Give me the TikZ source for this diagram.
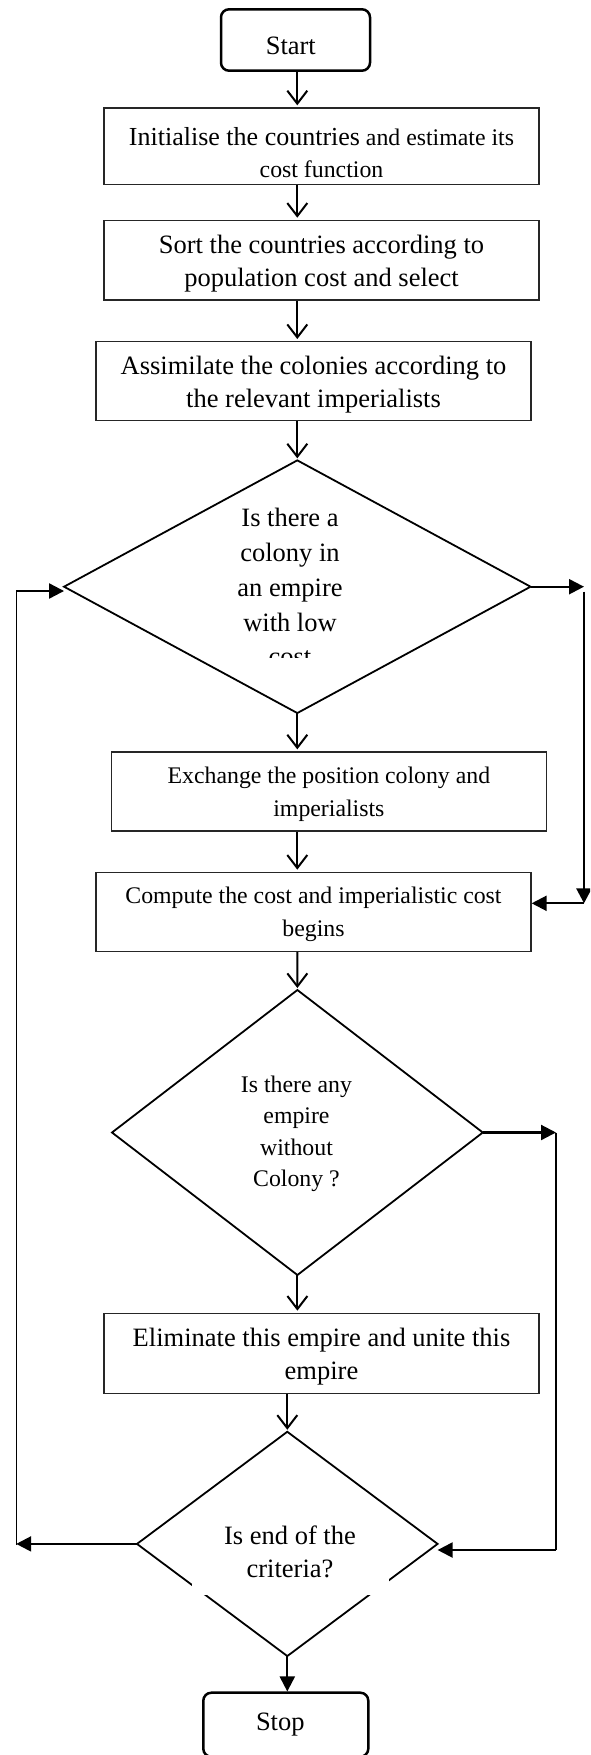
\documentclass[tikz,border=0pt]{standalone}
\usepackage{fontspec}
\setmainfont{Liberation Serif}
\usetikzlibrary{shapes.geometric,arrows.meta}
\newcommand\flowbig{\fontsize{26.5}{33}\selectfont}
\newcommand\flowsmall{\fontsize{23.8}{33}\selectfont}
\newcommand\topgap[1]{\rule{0pt}{#1}}

\begin{document}
\begin{tikzpicture}[x=1pt,y=-1pt,
  proc/.style={draw=black!85,line width=1.3pt,inner sep=0pt,minimum width=435pt,align=center,font=\flowbig},
  term/.style={draw,line width=2.5pt,rounded corners=8pt,inner sep=0pt,minimum width=149pt,font=\flowbig},
  decide/.style={draw,diamond,line width=1.8pt,inner sep=0pt,outer sep=0pt},
  dtext/.style={align=center,inner sep=0pt},
  flow/.style={line width=2pt,shorten >=2pt,-{Straight Barb[length=13pt,width=20pt]}},
  back/.style={line width=2.2pt,-{Triangle[length=15pt,width=15pt]}}]
\useasboundingbox (0,0) rectangle (590,1755);
\clip (0,0) rectangle (590,1755);

\node[term,minimum height=61.4pt] (start) at (295.5,40) {\topgap{29pt}Start\hspace*{9.4pt}};
\node[proc,minimum height=76.7pt,font=\fontsize{23.8}{32.5}\selectfont] (init) at (321.5,146.3)
  {\topgap{31pt}{\fontsize{26}{32.5}\selectfont Initialise the countries} and estimate its\\cost function};
\node[proc,minimum height=79.7pt] (sort) at (321.5,260.2) {\topgap{24.3pt}Sort the countries according to\\population cost and select};
\node[proc,minimum height=79pt] (assim) at (313.5,381.2) {\topgap{24.3pt}Assimilate the colonies according to\\the relevant imperialists};
\node[decide,minimum width=466.5pt,minimum height=252.7pt] (low) at (297.3,586.7) {};
\node[proc,minimum height=79pt,font=\flowsmall] (exch) at (328.9,791.5) {\topgap{22.4pt}Exchange the position colony and\\imperialists};
\node[proc,minimum height=79pt,font=\flowsmall] (comp) at (313.5,911.8) {\topgap{22.4pt}Compute the cost and imperialistic cost\\begins};
\node[decide,minimum width=370.8pt,minimum height=285pt] (nocol) at (297.4,1132.5) {};
\node[proc,minimum height=80pt] (elim) at (321.5,1353.3) {\topgap{24.3pt}Eliminate this empire and unite this\\empire};
\node[decide,minimum width=300.6pt,minimum height=224.3pt] (crit) at (287.3,1543.9) {};
\node[term,minimum width=165pt,minimum height=64pt] (stop) at (285.8,1724.7) {Stop\hspace*{11pt}};

\begin{scope}
\clip (low.west |- 0,500) rectangle (low.east |- 0,657);
\node[dtext,font=\fontsize{26.5}{34.7}\selectfont] (lowtxt) at (290,587.3) {Is there a\\colony in\\an empire\\with low\\cost};
\end{scope}
\node[dtext,font=\fontsize{23.8}{31.5}\selectfont] (nocoltxt) at (296.5,1133.6) {Is there any\\empire\\without\\Colony ?};
\fill[white] (192,1520) rectangle (389,1595);
\node[dtext,font=\fontsize{26.5}{32.5}\selectfont] (crittxt) at (290,1551.9) {Is end of the\\criteria?};

\path[flow] (start.south -| low.north) edge (init.north -| low.north)
  (init.south -| low.north) edge (sort.north -| low.north)
  (sort.south -| low.north) edge (assim.north -| low.north)
  (assim.south -| low.north) edge (low.north)
  (low.south) edge (exch.north -| low.south)
  (exch.south -| low.south) edge (comp.north -| low.south)
  (comp.south -| low.south) edge (nocol.north)
  (nocol.south) edge (elim.north -| nocol.south)
  (elim.south -| crit.north) edge (crit.north);

\coordinate (lb) at (16.2,1545);
\coordinate (lt) at (16.2,591);
\coordinate (ra) at (584,591.7);
\coordinate (rb) at (584,903.3);
\coordinate (rc) at (556,1137.3);
\coordinate (rd) at (556,1550);

\draw[back] (crit.west) -- (crit.west -| lb);
\draw[line width=1.3pt] (lb) -- (lt);
\draw[back] (lt) -- (lt -| low.west);
\draw[back] (low.east) -- (low.east -| ra);
\draw[back,line width=2.8pt] (ra) -- (rb);
\draw[back] (rb) -- (rb -| comp.east);
\draw[back] (nocol.east) -- (nocol.east -| rc);
\draw[line width=1.3pt] (nocol.east -| rc) -- (rd);
\draw[back] (rd) -- (rd -| crit.east);
\draw[back] (crit.south) -- (stop.north -| crit.south);
\end{tikzpicture}
\end{document}
